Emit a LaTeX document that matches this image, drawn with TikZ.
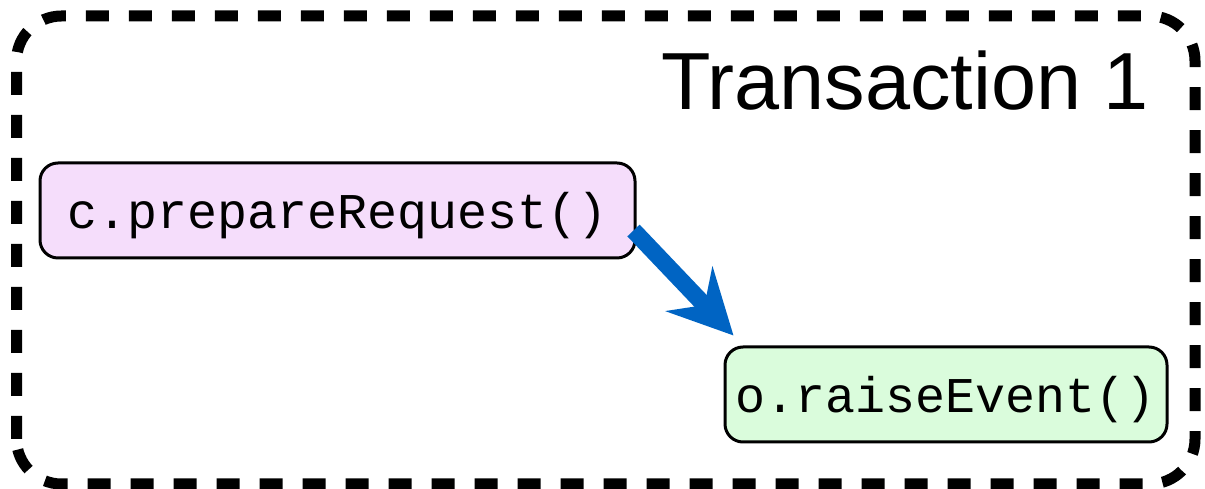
\documentclass[tikz,border=0pt]{standalone}
\usepackage{fontspec}
\setmainfont{Liberation Sans}
\newfontfamily\codefont{Liberation Mono}
\usepackage{tikz}
\usetikzlibrary{arrows.meta}
\definecolor{callpink}{HTML}{F5DDFB}
\definecolor{callgreen}{HTML}{DAFCDC}
\definecolor{flowblue}{HTML}{0064C3}

\begin{document}
\begin{tikzpicture}[x=1pt,y=1pt,
	callbox/.style={draw,line width=3pt,rounded corners=18pt,minimum height=95pt,inner sep=0pt,text height=40pt,text depth=3pt,font=\codefont\fontsize{50}{60}\selectfont},
	txframe/.style={line width=11pt,dash pattern=on 23pt off 20pt,rounded corners=45pt}]
	\useasboundingbox (0,0) rectangle (1205,489);
	\draw [txframe] (16.5,5) rectangle (1195,473);
	\node [anchor=base east,inner sep=0pt,font=\fontsize{81}{96}\selectfont] (txlabel) at (1149,379) {Transaction 1};
	\node [callbox,fill=callpink,minimum width=595pt] (prep) at (337.5,278.5) {c.prepareRequest()};
	\node [callbox,fill=callgreen,minimum width=442pt] (raise) at (946,94.5) {o.raiseEvent()};
	\draw [flowblue,line width=17pt,-{Stealth[length=64pt,width=64pt,inset=22pt]}]
		([shift={(-3pt,-20pt)}]prep.east) -- ([shift={(10pt,10pt)}]raise.north west);
\end{tikzpicture}
\end{document}
